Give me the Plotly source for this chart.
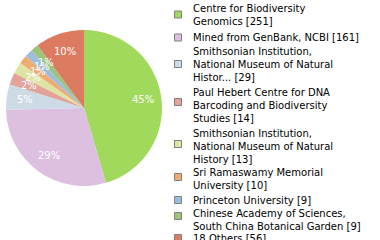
import math
import plotly.graph_objects as go

# Record counts by depositing institution
labels = [
    "Centre for Biodiversity<br>Genomics [251]",
    "Mined from GenBank, NCBI [161]",
    "Smithsonian Institution,<br>National Museum of Natural<br>Histor... [29]",
    "Paul Hebert Centre for DNA<br>Barcoding and Biodiversity<br>Studies [14]",
    "Smithsonian Institution,<br>National Museum of Natural<br>History [13]",
    "Sri Ramaswamy Memorial<br>University [10]",
    "Princeton University [9]",
    "Chinese Academy of Sciences,<br>South China Botanical Garden [9]",
    "18 Others [56]",
]
values = [251, 161, 29, 14, 13, 10, 9, 9, 56]
colors = ["#a0d95b", "#ddbfe0", "#cddbe6", "#e0a49a", "#dfe4a4",
          "#eeac72", "#9dbde0", "#9cc47a", "#dc7b60"]

W, H = 380, 240
# pie geometry in pixels
CX, CY, R = 84, 108, 78
# legend row centres (pixels from top): text block and swatch
legend_text_y = [15, 37.5, 64.5, 105, 146.5, 179, 200, 219.5, 238]
legend_box_y = [14.5, 37.5, 64, 102, 144, 177, 200, 216, 238]

FONT = "DejaVu Sans"

fig = go.Figure(go.Pie(
    labels=labels,
    values=values,
    sort=False,
    direction="clockwise",
    rotation=0,
    marker=dict(colors=colors, line=dict(width=0)),
    textinfo="none",
    hoverinfo="label+percent",
    domain=dict(x=[(CX - R) / W, (CX + R) / W],
                y=[1 - (CY + R) / H, 1 - (CY - R) / H]),
    showlegend=False,
))

annotations = []
shapes = []

# percentage labels placed along each slice's mid angle
total = sum(values)
cum = 0
for v in values:
    mid = (cum + v / 2) / total * 2 * math.pi
    cum += v
    px = CX + 0.76 * R * math.sin(mid)
    py = CY - 0.76 * R * math.cos(mid)
    annotations.append(dict(
        x=px / W, y=1 - py / H, xref="paper", yref="paper",
        text=f"{math.floor(100 * v / total)}%", showarrow=False,
        xanchor="center", yanchor="middle",
        font=dict(family=FONT, size=10, color="white"),
    ))

# legend: swatches and wrapped names
for lab, col, ty, by in zip(labels, colors, legend_text_y, legend_box_y):
    shapes.append(dict(
        type="rect", xref="paper", yref="paper",
        x0=174.5 / W, x1=181.5 / W,
        y0=1 - (by + 3.5) / H, y1=1 - (by - 3.5) / H,
        fillcolor=col, line=dict(color="#808080", width=1),
    ))
    annotations.append(dict(
        x=191 / W, y=1 - ty / H, xref="paper", yref="paper",
        text=lab, showarrow=False, align="left",
        xanchor="left", yanchor="middle",
        font=dict(family=FONT, size=10, color="#000000"),
    ))

fig.update_layout(
    width=W, height=H,
    margin=dict(l=0, r=0, t=0, b=0),
    paper_bgcolor="white",
    plot_bgcolor="white",
    annotations=annotations,
    shapes=shapes,
)

fig.write_html("out.html")
